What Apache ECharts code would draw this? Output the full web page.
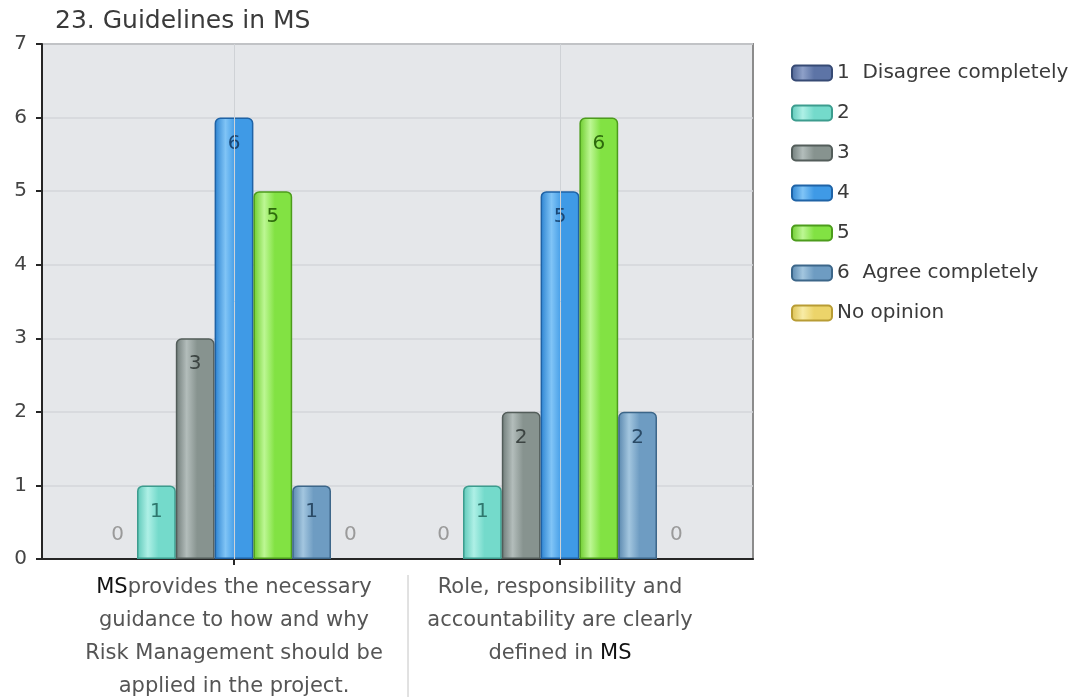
<!DOCTYPE html>
<html>
<head>
<meta charset="utf-8">
<script src="https://cdn.jsdelivr.net/npm/echarts@6/dist/echarts.min.js"></script>
<style>
  html, body { margin: 0; padding: 0; background: #ffffff; }
  #chart { width: 1084px; height: 699px; }
</style>
</head>
<body>
<div id="chart"></div>
<script>
// Survey question 23: answers per statement on a 1–6 scale
const titleText = '23. Guidelines in MS';
const categories = [
  'MSprovides the necessary\nguidance to how and why\nRisk Management should be\napplied in the project.',
  'Role, responsibility and\naccountability are clearly\ndefined in MS'
];
const seriesNames = ['1  Disagree completely', '2', '3', '4', '5', '6  Agree completely', 'No opinion'];
const disagreeCompletely = [0, 0];
const answer2 = [1, 1];
const answer3 = [3, 2];
const answer4 = [6, 5];
const answer5 = [5, 6];
const agreeCompletely = [1, 2];
const noOpinion = [0, 0];
const yTicks = [0, 1, 2, 3, 4, 5, 6, 7];

const seriesValues = [disagreeCompletely, answer2, answer3, answer4, answer5, agreeCompletely, noOpinion];

// fill: edge, highlight and body shades, border, label text colour
const palette = [
  { edge: '#4c6292', hi: '#8ea0c8', body: '#5d74a6', border: '#364a74', text: '#2d3d60' },
  { edge: '#5cc8b8', hi: '#aef0e6', body: '#74dacb', border: '#3c9c8e', text: '#2f776d' },
  { edge: '#6f7b78', hi: '#b3bdbb', body: '#87938f', border: '#535d5a', text: '#3c4442' },
  { edge: '#2b82d0', hi: '#80c4f6', body: '#3f9ae6', border: '#1f63a6', text: '#1a4775' },
  { edge: '#6ccc2c', hi: '#bdf794', body: '#82e243', border: '#4c9c1c', text: '#2d6a0c' },
  { edge: '#5886ad', hi: '#a3c6df', body: '#6e9cc2', border: '#3c6689', text: '#2a4a66' },
  { edge: '#dcc050', hi: '#f8eca6', body: '#ecd46a', border: '#b89c34', text: '#7a6620' }
];

const FONT = 'DejaVu Sans';

function barFill(p) {
  return new echarts.graphic.LinearGradient(0, 0, 1, 0, [
    { offset: 0, color: p.edge },
    { offset: 0.28, color: p.hi },
    { offset: 0.55, color: p.body },
    { offset: 1, color: p.body }
  ]);
}

function categoryLabel(value) {
  return value.split('\n').map(line =>
    line.split('MS').map(part => part ? '{t|' + part + '}' : '').join('{ms|MS}')
  ).join('\n');
}

const series = seriesNames.map((name, i) => {
  const p = palette[i];
  return {
    name: name,
    type: 'bar',
    xAxisIndex: 1,
    yAxisIndex: 1,
    barGap: '0%',
    barCategoryGap: '16.7%',
    itemStyle: {
      color: barFill(p),
      borderColor: p.border,
      borderWidth: 1.5,
      borderRadius: [5, 5, 0, 0]
    },
    data: seriesValues[i].map(v => ({
      value: v,
      // empty answers: no visible bar, only the grey count
      itemStyle: v > 0 ? undefined : { borderWidth: 0, color: 'rgba(0,0,0,0)' },
      label: v > 0
        ? { show: true, position: 'insideTop', distance: 16, color: p.text, fontSize: 20, fontFamily: FONT }
        : { show: true, position: 'top', distance: 14, color: '#9a9a9a', fontSize: 20, fontFamily: FONT }
    }))
  };
});

// vertical guide lines through each category centre
series[3].markLine = {
  silent: true,
  symbol: 'none',
  label: { show: false },
  lineStyle: { color: '#cfd2d6', width: 1, type: 'solid' },
  data: categories.map(c => ({ xAxis: c }))
};

const chart = echarts.init(document.getElementById('chart'), null, { renderer: 'canvas' });

chart.setOption({
  animation: false,
  backgroundColor: '#ffffff',
  title: {
    text: titleText,
    left: 50,
    top: 4,
    textStyle: { fontFamily: FONT, fontSize: 25, fontWeight: 'normal', color: '#3a3a3a' }
  },
  legend: {
    orient: 'vertical',
    left: 786,
    top: 57,
    itemWidth: 40,
    itemHeight: 15,
    itemGap: 18,
    icon: 'roundRect',
    textStyle: { fontFamily: FONT, fontSize: 20, color: '#3a3a3a', lineHeight: 22 },
    data: seriesNames
  },
  grid: [
    { left: 42, right: 331, top: 44, bottom: 140, show: true, backgroundColor: '#e5e7ea', borderColor: '#8c8c8c', borderWidth: 2 },
    { left: 71, right: 361, top: 44, bottom: 140 }
  ],
  xAxis: [
    {
      gridIndex: 0, type: 'category', data: [''],
      axisLine: { show: true, lineStyle: { color: '#262626', width: 2 } },
      axisTick: { show: false }, axisLabel: { show: false }, splitLine: { show: false }
    },
    {
      gridIndex: 1, type: 'category', data: categories,
      axisLine: { show: false },
      axisTick: { show: true, alignWithLabel: true, length: 6, lineStyle: { color: '#262626', width: 2 } },
      axisLabel: {
        interval: 0,
        margin: 12,
        formatter: categoryLabel,
        rich: {
          t: { fontFamily: FONT, fontSize: 21, color: '#555555', lineHeight: 33 },
          ms: { fontFamily: FONT, fontSize: 21, color: '#111111', lineHeight: 33 }
        }
      },
      splitLine: { show: false }
    }
  ],
  yAxis: [
    {
      gridIndex: 0, type: 'value', min: yTicks[0], max: yTicks[yTicks.length - 1], interval: 1,
      axisLine: { show: true, lineStyle: { color: '#262626', width: 2 } },
      axisTick: { show: true, length: 6, lineStyle: { color: '#262626', width: 2 } },
      axisLabel: { margin: 15, fontFamily: FONT, fontSize: 20, color: '#444444' },
      splitLine: { show: true, lineStyle: { color: '#d3d6da', width: 1.5 } }
    },
    {
      gridIndex: 1, type: 'value', min: yTicks[0], max: yTicks[yTicks.length - 1], interval: 1,
      show: false
    }
  ],
  graphic: [
    {
      type: 'line',
      shape: { x1: 408, y1: 575, x2: 408, y2: 697 },
      style: { stroke: '#c4c4c4', lineWidth: 1 }
    }
  ],
  series: series
});
</script>
</body>
</html>
